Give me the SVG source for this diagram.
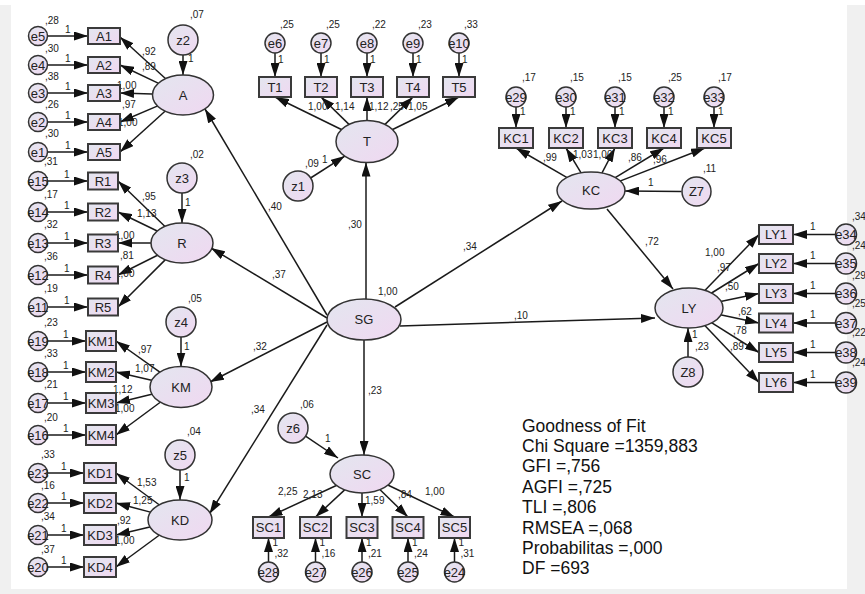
<svg xmlns="http://www.w3.org/2000/svg" width="865" height="594" viewBox="0 0 865 594">
<defs>
<linearGradient id="g" x1="0" y1="0" x2="1" y2="1">
<stop offset="0" stop-color="#e3e6ef"/>
<stop offset="1" stop-color="#f0d8f1"/>
</linearGradient>
<marker id="ah" markerUnits="userSpaceOnUse" markerWidth="14" markerHeight="9" refX="14" refY="4.5" orient="auto">
<path d="M0,0 L14,4.5 L0,9 z" fill="#111"/>
</marker>
<style>
.n{fill:url(#g);stroke:#333;stroke-width:1.5}
.b{fill:url(#g);stroke:#3a3a3a;stroke-width:2}
.t{font-family:"Liberation Sans",Arial,sans-serif;font-size:13px;fill:#222;text-anchor:middle}
.s{font-family:"Liberation Sans",Arial,sans-serif;font-size:10px;fill:#222}
.gf{font-family:"Liberation Sans",Arial,sans-serif;font-size:17.5px;fill:#111}
#connectors line{stroke:#1a1a1a;stroke-width:1.5;marker-end:url(#ah)}
</style>
</defs>
<rect width="865" height="594" fill="#fff"/>
<rect x="0" y="5" width="11" height="589" fill="#f0f0f0"/>
<rect x="847" y="5" width="18" height="589" fill="#f0f0f0"/>
<rect x="0" y="589" width="865" height="5" fill="#f0f0f0"/>

<g id="connectors">
<line x1="47.5" y1="36" x2="88" y2="36"/>
<line x1="47.5" y1="65" x2="88" y2="65"/>
<line x1="47.5" y1="93" x2="88" y2="93"/>
<line x1="47.5" y1="122" x2="88" y2="122"/>
<line x1="47.5" y1="152" x2="88" y2="152"/>
<line x1="165.4" y1="78.5" x2="120" y2="37"/>
<line x1="158.1" y1="83.1" x2="120" y2="65"/>
<line x1="152" y1="94" x2="120" y2="93"/>
<line x1="157.2" y1="106.1" x2="120" y2="122"/>
<line x1="165" y1="111.3" x2="120" y2="152"/>
<line x1="183" y1="55" x2="183" y2="75"/>

<line x1="47.5" y1="181" x2="88" y2="181"/>
<line x1="47.5" y1="212" x2="88" y2="212"/>
<line x1="47.5" y1="243" x2="88" y2="243"/>
<line x1="47.5" y1="275" x2="88" y2="275"/>
<line x1="47.5" y1="307" x2="88" y2="307"/>
<line x1="165" y1="226.5" x2="118" y2="181"/>
<line x1="157.7" y1="231.2" x2="118" y2="212"/>
<line x1="151" y1="243" x2="118" y2="243"/>
<line x1="158" y1="255" x2="118" y2="275"/>
<line x1="165.4" y1="259.6" x2="118" y2="307"/>
<line x1="182" y1="193" x2="182" y2="223"/>

<line x1="47.5" y1="341" x2="86" y2="341"/>
<line x1="47.5" y1="372" x2="86" y2="372"/>
<line x1="47.5" y1="403" x2="86" y2="403"/>
<line x1="47.5" y1="435" x2="86" y2="435"/>
<line x1="160.2" y1="372.3" x2="116" y2="341"/>
<line x1="152.6" y1="380.4" x2="116" y2="372"/>
<line x1="152.8" y1="393.9" x2="116" y2="403"/>
<line x1="160.6" y1="402" x2="116" y2="435"/>
<line x1="181" y1="337" x2="181" y2="366.5"/>

<line x1="47.5" y1="473" x2="84" y2="473"/>
<line x1="47.5" y1="503" x2="84" y2="503"/>
<line x1="47.5" y1="535" x2="84" y2="535"/>
<line x1="47.5" y1="567" x2="84" y2="567"/>
<line x1="159.5" y1="505" x2="116" y2="473"/>
<line x1="151.3" y1="512.4" x2="116" y2="503"/>
<line x1="150.9" y1="526.8" x2="116" y2="535"/>
<line x1="159.5" y1="535" x2="116" y2="567"/>
<line x1="180" y1="470" x2="180" y2="500"/>

<line x1="275" y1="53" x2="275" y2="77"/>
<line x1="321" y1="53" x2="321" y2="77"/>
<line x1="367" y1="53" x2="367" y2="77"/>
<line x1="413" y1="53" x2="413" y2="77"/>
<line x1="459" y1="53" x2="459" y2="77"/>
<line x1="342.4" y1="130" x2="275" y2="97"/>
<line x1="349.5" y1="124.9" x2="321" y2="97"/>
<line x1="367" y1="120.5" x2="367" y2="97"/>
<line x1="384.5" y1="124.9" x2="413" y2="97"/>
<line x1="391.6" y1="130" x2="459" y2="97"/>
<line x1="309.8" y1="178.5" x2="344.8" y2="156.1"/>
<line x1="366" y1="299" x2="366" y2="162.5"/>

<line x1="516" y1="107" x2="516" y2="128"/>
<line x1="566" y1="107" x2="566" y2="128"/>
<line x1="615" y1="107" x2="615" y2="128"/>
<line x1="664" y1="107" x2="664" y2="128"/>
<line x1="714" y1="107" x2="714" y2="128"/>
<line x1="568.4" y1="178.3" x2="516" y2="148"/>
<line x1="581.7" y1="173.9" x2="566" y2="148"/>
<line x1="601.5" y1="173.8" x2="615" y2="148"/>
<line x1="614.8" y1="177.9" x2="664" y2="148"/>
<line x1="619.9" y1="181.1" x2="705" y2="148"/>
<line x1="681.5" y1="191.5" x2="625" y2="191"/>
<line x1="395" y1="307" x2="562" y2="201"/>
<line x1="607" y1="209" x2="673" y2="289"/>
<line x1="400" y1="326" x2="655" y2="318"/>

<line x1="704.6" y1="290.7" x2="759" y2="234.5"/>
<line x1="710.8" y1="293.5" x2="759" y2="263.5"/>
<line x1="719.4" y1="301.8" x2="759" y2="293.5"/>
<line x1="719.2" y1="314.6" x2="759" y2="323"/>
<line x1="711.1" y1="322.3" x2="759" y2="352.5"/>
<line x1="704.6" y1="325.3" x2="759" y2="382.5"/>
<line x1="835.5" y1="234.5" x2="793" y2="234.5"/>
<line x1="835.5" y1="263.5" x2="793" y2="263.5"/>
<line x1="835.5" y1="293.5" x2="793" y2="293.5"/>
<line x1="835.5" y1="323" x2="793" y2="323"/>
<line x1="835.5" y1="352.5" x2="793" y2="352.5"/>
<line x1="835.5" y1="382.5" x2="793" y2="382.5"/>
<line x1="688" y1="357" x2="688" y2="328"/>

<line x1="337.9" y1="484.7" x2="268.5" y2="517"/>
<line x1="345.2" y1="489.4" x2="315.5" y2="517"/>
<line x1="362" y1="493" x2="362" y2="517"/>
<line x1="380.1" y1="489.7" x2="408" y2="517"/>
<line x1="387.8" y1="485" x2="454.5" y2="517"/>
<line x1="268.5" y1="562" x2="268.5" y2="538"/>
<line x1="315.5" y1="562" x2="315.5" y2="538"/>
<line x1="362" y1="562" x2="362" y2="538"/>
<line x1="408" y1="562" x2="408" y2="538"/>
<line x1="454.5" y1="562" x2="454.5" y2="538"/>
<line x1="304.8" y1="435.6" x2="338" y2="458"/>
<line x1="364" y1="340" x2="364" y2="455"/>

<line x1="327" y1="315" x2="205" y2="109"/>
<line x1="327" y1="318" x2="211" y2="248"/>
<line x1="327" y1="322" x2="210" y2="382"/>
<line x1="327" y1="325" x2="209.6" y2="513.7"/>
</g>

<g id="labels" class="s">
<text x="45" y="24">,28</text><text x="45" y="52">,30</text><text x="45" y="80">,38</text><text x="45" y="108">,26</text><text x="45" y="137">,30</text>
<text x="65" y="33">1</text><text x="65" y="62">1</text><text x="65" y="90">1</text><text x="65" y="119">1</text><text x="65" y="149">1</text>
<text x="142" y="55">,92</text><text x="142" y="70">,89</text><text x="117" y="89">1,00</text><text x="122" y="108">,97</text><text x="118" y="126">1,00</text>
<text x="190" y="18">,07</text><text x="188" y="62">1</text>

<text x="44" y="165">,31</text><text x="44" y="198">,17</text><text x="44" y="228">,32</text><text x="44" y="260">,36</text><text x="44" y="292">,19</text>
<text x="64" y="178">1</text><text x="64" y="209">1</text><text x="64" y="240">1</text><text x="64" y="272">1</text><text x="64" y="304">1</text>
<text x="142" y="200">,95</text><text x="137" y="217">1,13</text><text x="115" y="239">1,00</text><text x="120" y="259">,81</text><text x="115" y="277">1,00</text>
<text x="190" y="158">,02</text><text x="185" y="206">1</text>

<text x="44" y="326">,23</text><text x="44" y="357">,33</text><text x="44" y="388">,21</text><text x="44" y="421">,20</text>
<text x="63" y="338">1</text><text x="63" y="369">1</text><text x="63" y="400">1</text><text x="63" y="432">1</text>
<text x="138" y="353">,97</text><text x="135" y="372">1,07</text><text x="113" y="393">1,12</text><text x="115" y="412">1,00</text>
<text x="188" y="302">,05</text><text x="184" y="350">1</text>

<text x="41" y="458">,33</text><text x="41" y="489">,16</text><text x="41" y="520">,34</text><text x="41" y="553">,37</text>
<text x="61" y="470">1</text><text x="61" y="500">1</text><text x="61" y="532">1</text><text x="61" y="564">1</text>
<text x="137" y="486">1,53</text><text x="133" y="504">1,25</text><text x="117" y="524">,92</text><text x="115" y="544">1,00</text>
<text x="187" y="435">,04</text><text x="184" y="481">1</text>

<text x="280" y="28">,25</text><text x="326" y="28">,25</text><text x="372" y="28">,22</text><text x="418" y="28">,23</text><text x="464" y="28">,33</text>
<text x="278" y="63">1</text><text x="324" y="63">1</text><text x="370" y="63">1</text><text x="416" y="63">1</text><text x="462" y="63">1</text>
<text x="308" y="110">1,00</text><text x="335" y="110">1,14</text><text x="369" y="110">1,12</text><text x="390" y="110">,25</text><text x="408" y="110">1,05</text>
<text x="305" y="167">,09</text><text x="322" y="163">1</text>

<text x="268" y="210">,40</text><text x="348" y="228">,30</text><text x="272" y="278">,37</text><text x="378" y="295">1,00</text>
<text x="463" y="250">,34</text><text x="253" y="350">,32</text><text x="368" y="394">,23</text><text x="251" y="413">,34</text>
<text x="300" y="408">,06</text><text x="325" y="442">1</text><text x="514" y="319">,10</text>

<text x="522" y="81">,17</text><text x="570" y="81">,15</text><text x="618" y="81">,15</text><text x="668" y="81">,25</text><text x="718" y="81">,17</text>
<text x="520" y="115">1</text><text x="570" y="115">1</text><text x="619" y="115">1</text><text x="668" y="115">1</text><text x="718" y="115">1</text>
<text x="543" y="161">,99</text><text x="573" y="158">1,03</text><text x="593" y="158">1,00</text><text x="628" y="161">,86</text><text x="653" y="163">,96</text>
<text x="703" y="172">,11</text><text x="648" y="186">1</text>

<text x="645" y="245">,72</text><text x="705" y="256">1,00</text><text x="717" y="271">,97</text><text x="725" y="290">,50</text><text x="738" y="315">,62</text><text x="733" y="334">,78</text><text x="730" y="350">,89</text>
<text x="692" y="338">1</text><text x="695" y="350">,23</text>
<text x="810" y="230">1</text><text x="810" y="259">1</text><text x="810" y="289">1</text><text x="810" y="318">1</text><text x="810" y="348">1</text><text x="810" y="378">1</text>
<text x="852" y="220">,34</text><text x="852" y="249">,24</text><text x="852" y="279">,29</text><text x="852" y="307">,25</text><text x="852" y="336">,22</text><text x="852" y="366">,24</text>

<text x="278" y="495">2,25</text><text x="303" y="498">2,13</text><text x="365" y="504">1,59</text><text x="398" y="498">,84</text><text x="425" y="495">1,00</text>
<text x="272.5" y="546">1</text><text x="319.5" y="546">1</text><text x="366" y="546">1</text><text x="412" y="546">1</text><text x="458.5" y="546">1</text>
<text x="274.5" y="557">,32</text><text x="321.5" y="557">,16</text><text x="368" y="557">,21</text><text x="414" y="557">,24</text><text x="460.5" y="557">,31</text>
</g>

<g id="A"><ellipse class="n" cx="183" cy="95" rx="30.5" ry="20"/><text class="t" x="183" y="99.6">A</text></g>
<g id="z2"><circle class="n" cx="183" cy="40" r="15"/><text class="t" x="183" y="44.6">z2</text></g>
<g id="A1"><rect class="b" x="88" y="28" width="32" height="16"/><text class="t" x="104" y="40.6">A1</text></g>
<g id="A2"><rect class="b" x="88" y="57" width="32" height="16"/><text class="t" x="104" y="69.6">A2</text></g>
<g id="A3"><rect class="b" x="88" y="85" width="32" height="16"/><text class="t" x="104" y="97.6">A3</text></g>
<g id="A4"><rect class="b" x="88" y="114" width="32" height="16"/><text class="t" x="104" y="126.6">A4</text></g>
<g id="A5"><rect class="b" x="88" y="144" width="32" height="16"/><text class="t" x="104" y="156.6">A5</text></g>
<g id="e5"><circle class="n" cx="38" cy="36" r="9.5"/><text class="t" x="38" y="40.6">e5</text></g>
<g id="e4"><circle class="n" cx="38" cy="65" r="9.5"/><text class="t" x="38" y="69.6">e4</text></g>
<g id="e3"><circle class="n" cx="38" cy="93" r="9.5"/><text class="t" x="38" y="97.6">e3</text></g>
<g id="e2"><circle class="n" cx="38" cy="122" r="9.5"/><text class="t" x="38" y="126.6">e2</text></g>
<g id="e1"><circle class="n" cx="38" cy="152" r="9.5"/><text class="t" x="38" y="156.6">e1</text></g>

<g id="R"><ellipse class="n" cx="182" cy="243" rx="31" ry="20"/><text class="t" x="182" y="247.6">R</text></g>
<g id="z3"><circle class="n" cx="182" cy="178" r="15"/><text class="t" x="182" y="182.6">z3</text></g>
<g id="R1"><rect class="b" x="88" y="172.5" width="30" height="17"/><text class="t" x="103" y="185.6">R1</text></g>
<g id="R2"><rect class="b" x="88" y="203.5" width="30" height="17"/><text class="t" x="103" y="216.6">R2</text></g>
<g id="R3"><rect class="b" x="88" y="234.5" width="30" height="17"/><text class="t" x="103" y="247.6">R3</text></g>
<g id="R4"><rect class="b" x="88" y="266.5" width="30" height="17"/><text class="t" x="103" y="279.6">R4</text></g>
<g id="R5"><rect class="b" x="88" y="298.5" width="30" height="17"/><text class="t" x="103" y="311.6">R5</text></g>
<g id="e15"><circle class="n" cx="38" cy="181" r="9.5"/><text class="t" x="38" y="185.6">e15</text></g>
<g id="e14"><circle class="n" cx="38" cy="212" r="9.5"/><text class="t" x="38" y="216.6">e14</text></g>
<g id="e13"><circle class="n" cx="38" cy="243" r="9.5"/><text class="t" x="38" y="247.6">e13</text></g>
<g id="e12"><circle class="n" cx="38" cy="275" r="9.5"/><text class="t" x="38" y="279.6">e12</text></g>
<g id="e11"><circle class="n" cx="38" cy="307" r="9.5"/><text class="t" x="38" y="311.6">e11</text></g>

<g id="KM"><ellipse class="n" cx="181" cy="387" rx="31" ry="20.5"/><text class="t" x="181" y="391.6">KM</text></g>
<g id="z4"><circle class="n" cx="181" cy="322" r="15"/><text class="t" x="181" y="326.6">z4</text></g>
<g id="KM1"><rect class="b" x="86" y="331" width="30" height="20"/><text class="t" x="101" y="345.6">KM1</text></g>
<g id="KM2"><rect class="b" x="86" y="362" width="30" height="20"/><text class="t" x="101" y="376.6">KM2</text></g>
<g id="KM3"><rect class="b" x="86" y="393" width="30" height="20"/><text class="t" x="101" y="407.6">KM3</text></g>
<g id="KM4"><rect class="b" x="86" y="425" width="30" height="20"/><text class="t" x="101" y="439.6">KM4</text></g>
<g id="e19"><circle class="n" cx="38" cy="341" r="9.5"/><text class="t" x="38" y="345.6">e19</text></g>
<g id="e18"><circle class="n" cx="38" cy="372" r="9.5"/><text class="t" x="38" y="376.6">e18</text></g>
<g id="e17"><circle class="n" cx="38" cy="403" r="9.5"/><text class="t" x="38" y="407.6">e17</text></g>
<g id="e16"><circle class="n" cx="38" cy="435" r="9.5"/><text class="t" x="38" y="439.6">e16</text></g>

<g id="KD"><ellipse class="n" cx="180" cy="520" rx="32" ry="20"/><text class="t" x="180" y="524.6">KD</text></g>
<g id="z5"><circle class="n" cx="180" cy="455" r="15"/><text class="t" x="180" y="459.6">z5</text></g>
<g id="KD1"><rect class="b" x="84" y="463" width="32" height="20"/><text class="t" x="100" y="477.6">KD1</text></g>
<g id="KD2"><rect class="b" x="84" y="493" width="32" height="20"/><text class="t" x="100" y="507.6">KD2</text></g>
<g id="KD3"><rect class="b" x="84" y="525" width="32" height="20"/><text class="t" x="100" y="539.6">KD3</text></g>
<g id="KD4"><rect class="b" x="84" y="557" width="32" height="20"/><text class="t" x="100" y="571.6">KD4</text></g>
<g id="e23"><circle class="n" cx="38" cy="473" r="9.5"/><text class="t" x="38" y="477.6">e23</text></g>
<g id="e22"><circle class="n" cx="38" cy="503" r="9.5"/><text class="t" x="38" y="507.6">e22</text></g>
<g id="e21"><circle class="n" cx="38" cy="535" r="9.5"/><text class="t" x="38" y="539.6">e21</text></g>
<g id="e20"><circle class="n" cx="38" cy="567" r="9.5"/><text class="t" x="38" y="571.6">e20</text></g>

<g id="T"><ellipse class="n" cx="367" cy="141.5" rx="31" ry="21"/><text class="t" x="367" y="146.1">T</text></g>
<g id="z1"><circle class="n" cx="298" cy="186" r="15"/><text class="t" x="298" y="190.6">z1</text></g>
<g id="T1"><rect class="b" x="259" y="77" width="32" height="20"/><text class="t" x="275" y="91.6">T1</text></g>
<g id="T2"><rect class="b" x="305" y="77" width="32" height="20"/><text class="t" x="321" y="91.6">T2</text></g>
<g id="T3"><rect class="b" x="351" y="77" width="32" height="20"/><text class="t" x="367" y="91.6">T3</text></g>
<g id="T4"><rect class="b" x="397" y="77" width="32" height="20"/><text class="t" x="413" y="91.6">T4</text></g>
<g id="T5"><rect class="b" x="443" y="77" width="32" height="20"/><text class="t" x="459" y="91.6">T5</text></g>
<g id="e6"><circle class="n" cx="275" cy="43" r="10"/><text class="t" x="275" y="47.6">e6</text></g>
<g id="e7"><circle class="n" cx="321" cy="43" r="10"/><text class="t" x="321" y="47.6">e7</text></g>
<g id="e8"><circle class="n" cx="367" cy="43" r="10"/><text class="t" x="367" y="47.6">e8</text></g>
<g id="e9"><circle class="n" cx="413" cy="43" r="10"/><text class="t" x="413" y="47.6">e9</text></g>
<g id="e10"><circle class="n" cx="459" cy="43" r="10"/><text class="t" x="459" y="47.6">e10</text></g>

<g id="SG"><ellipse class="n" cx="364" cy="319.5" rx="37" ry="20.5"/><text class="t" x="364" y="324.1">SG</text></g>

<g id="KC"><ellipse class="n" cx="591" cy="190.5" rx="34" ry="18.5"/><text class="t" x="591" y="195.1">KC</text></g>
<g id="Z7"><circle class="n" cx="696.5" cy="191.5" r="14.5"/><text class="t" x="696.5" y="196.1">Z7</text></g>
<g id="KC1"><rect class="b" x="499" y="128" width="34" height="20"/><text class="t" x="516" y="142.6">KC1</text></g>
<g id="KC2"><rect class="b" x="549" y="128" width="34" height="20"/><text class="t" x="566" y="142.6">KC2</text></g>
<g id="KC3"><rect class="b" x="598" y="128" width="34" height="20"/><text class="t" x="615" y="142.6">KC3</text></g>
<g id="KC4"><rect class="b" x="647" y="128" width="34" height="20"/><text class="t" x="664" y="142.6">KC4</text></g>
<g id="KC5"><rect class="b" x="697" y="128" width="34" height="20"/><text class="t" x="714" y="142.6">KC5</text></g>
<g id="e29"><circle class="n" cx="516" cy="97" r="10"/><text class="t" x="516" y="101.6">e29</text></g>
<g id="e30"><circle class="n" cx="566" cy="97" r="10"/><text class="t" x="566" y="101.6">e30</text></g>
<g id="e31"><circle class="n" cx="615" cy="97" r="10"/><text class="t" x="615" y="101.6">e31</text></g>
<g id="e32"><circle class="n" cx="664" cy="97" r="10"/><text class="t" x="664" y="101.6">e32</text></g>
<g id="e33"><circle class="n" cx="714" cy="97" r="10"/><text class="t" x="714" y="101.6">e33</text></g>

<g id="LY"><ellipse class="n" cx="689" cy="308" rx="34" ry="20"/><text class="t" x="689" y="312.6">LY</text></g>
<g id="Z8"><circle class="n" cx="688" cy="372" r="15"/><text class="t" x="688" y="376.6">Z8</text></g>
<g id="LY1"><rect class="b" x="759" y="225" width="34" height="19"/><text class="t" x="776" y="239.1">LY1</text></g>
<g id="LY2"><rect class="b" x="759" y="254" width="34" height="19"/><text class="t" x="776" y="268.1">LY2</text></g>
<g id="LY3"><rect class="b" x="759" y="284" width="34" height="19"/><text class="t" x="776" y="298.1">LY3</text></g>
<g id="LY4"><rect class="b" x="759" y="313.5" width="34" height="19"/><text class="t" x="776" y="327.6">LY4</text></g>
<g id="LY5"><rect class="b" x="759" y="343" width="34" height="19"/><text class="t" x="776" y="357.1">LY5</text></g>
<g id="LY6"><rect class="b" x="759" y="373" width="34" height="19"/><text class="t" x="776" y="387.1">LY6</text></g>
<g id="e34"><circle class="n" cx="846" cy="234.5" r="10.5"/><text class="t" x="846" y="239.1">e34</text></g>
<g id="e35"><circle class="n" cx="846" cy="263.5" r="10.5"/><text class="t" x="846" y="268.1">e35</text></g>
<g id="e36"><circle class="n" cx="846" cy="293.5" r="10.5"/><text class="t" x="846" y="298.1">e36</text></g>
<g id="e37"><circle class="n" cx="846" cy="323" r="10.5"/><text class="t" x="846" y="327.6">e37</text></g>
<g id="e38"><circle class="n" cx="846" cy="352.5" r="10.5"/><text class="t" x="846" y="357.1">e38</text></g>
<g id="e39"><circle class="n" cx="846" cy="382.5" r="10.5"/><text class="t" x="846" y="387.1">e39</text></g>

<g id="SC"><ellipse class="n" cx="362" cy="474" rx="32" ry="19"/><text class="t" x="362" y="478.6">SC</text></g>
<g id="z6"><circle class="n" cx="293" cy="428" r="15"/><text class="t" x="293" y="432.6">z6</text></g>
<g id="SC1"><rect class="b" x="253" y="517" width="31" height="21"/><text class="t" x="268.5" y="532.1">SC1</text></g>
<g id="SC2"><rect class="b" x="300" y="517" width="31" height="21"/><text class="t" x="315.5" y="532.1">SC2</text></g>
<g id="SC3"><rect class="b" x="346.5" y="517" width="31" height="21"/><text class="t" x="362" y="532.1">SC3</text></g>
<g id="SC4"><rect class="b" x="392.5" y="517" width="31" height="21"/><text class="t" x="408" y="532.1">SC4</text></g>
<g id="SC5"><rect class="b" x="439" y="517" width="31" height="21"/><text class="t" x="454.5" y="532.1">SC5</text></g>
<g id="e28"><circle class="n" cx="268.5" cy="572" r="10"/><text class="t" x="268.5" y="576.6">e28</text></g>
<g id="e27"><circle class="n" cx="315.5" cy="572" r="10"/><text class="t" x="315.5" y="576.6">e27</text></g>
<g id="e26"><circle class="n" cx="362" cy="572" r="10"/><text class="t" x="362" y="576.6">e26</text></g>
<g id="e25"><circle class="n" cx="408" cy="572" r="10"/><text class="t" x="408" y="576.6">e25</text></g>
<g id="e24"><circle class="n" cx="454.5" cy="572" r="10"/><text class="t" x="454.5" y="576.6">e24</text></g>

<g id="fit" class="gf">
<text x="522" y="432">Goodness of Fit</text>
<text x="522" y="452">Chi Square =1359,883</text>
<text x="522" y="472">GFI =,756</text>
<text x="522" y="492.5">AGFI =,725</text>
<text x="522" y="513">TLI =,806</text>
<text x="522" y="533.5">RMSEA =,068</text>
<text x="522" y="554">Probabilitas =,000</text>
<text x="522" y="574">DF =693</text>
</g>
</svg>
